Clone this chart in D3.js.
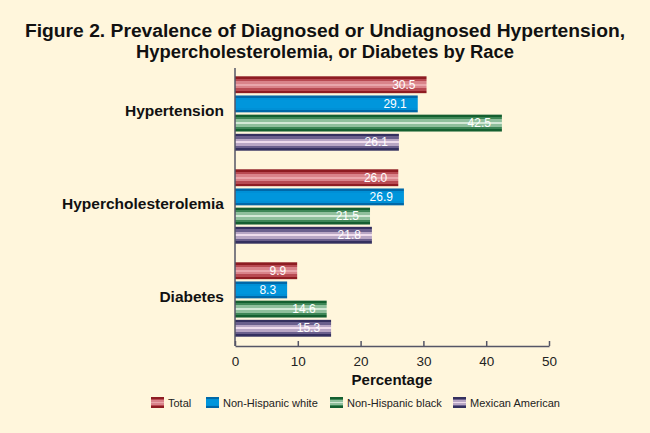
<!DOCTYPE html>
<html>
<head>
<meta charset="utf-8">
<script src="https://cdn.jsdelivr.net/npm/d3@7"></script>
<style>
  html, body { margin: 0; padding: 0; background: #fff6dc; }
  svg { display: block; font-family: "Liberation Sans", Arial, sans-serif; }
</style>
</head>
<body>
<svg id="chart" width="650" height="433"></svg>
<script>
/* ── Data ─────────────────────────────────────────────────────────────── */
const conditions = ['Hypertension', 'Hypercholesterolemia', 'Diabetes'];
const groups = ['Total', 'Non-Hispanic white', 'Non-Hispanic black', 'Mexican American'];
const total    = [30.5, 26.0, 9.9];
const nhWhite  = [29.1, 26.9, 8.3];
const nhBlack  = [42.5, 21.5, 14.6];
const mexican  = [26.1, 21.8, 15.3];
const xTicks   = [0, 10, 20, 30, 40, 50];

const seriesValues = [total, nhWhite, nhBlack, mexican];

/* stripe palettes per group (top → bottom) */
const stripes = [
  ['#8e1c22', '#b84a52', '#d9838a', '#e9a6ab', '#d9838a', '#b84a52', '#8e1c22'],
  ['#0068a8', '#0090d6', '#0096dc', '#0096dc', '#0096dc', '#0090d6', '#0068a8'],
  ['#145f30', '#3d8656', '#8fbf9c', '#d3e8d6', '#8fbf9c', '#3d8656', '#145f30'],
  ['#34305f', '#6a5f8c', '#b8a6c4', '#eedcec', '#b8a6c4', '#6a5f8c', '#34305f']
];

const svg = d3.select('#chart');
const defs = svg.append('defs');

stripes.forEach((cols, i) => {
  const grad = defs.append('linearGradient')
    .attr('id', 'g' + i).attr('x1', 0).attr('y1', 0).attr('x2', 0).attr('y2', 1);
  const n = cols.length;
  cols.forEach((c, j) => {
    grad.append('stop').attr('offset', (j / n)).attr('stop-color', c);
    grad.append('stop').attr('offset', ((j + 1) / n)).attr('stop-color', c);
  });
});

/* ── Title ────────────────────────────────────────────────────────────── */
const titleLines = [
  'Figure 2. Prevalence of Diagnosed or Undiagnosed Hypertension,',
  'Hypercholesterolemia, or Diabetes by Race'
];
const titleLens = [600, 378];
titleLines.forEach((t, i) => {
  svg.append('text')
    .attr('x', 325).attr('y', 37 + i * 21)
    .attr('text-anchor', 'middle')
    .attr('font-size', 18).attr('font-weight', 'bold')
    .attr('fill', '#111')
    .attr('textLength', titleLens[i]).attr('lengthAdjust', 'spacingAndGlyphs')
    .text(t);
});

/* ── Scales ───────────────────────────────────────────────────────────── */
const x = d3.scaleLinear().domain([0, 50]).range([235, 549]);
const y0 = d3.scaleBand().domain(conditions).range([67, 346])
  .paddingInner(0.2).paddingOuter(0.1);
const y1 = d3.scaleBand().domain(d3.range(groups.length))
  .range([0, y0.bandwidth()]).paddingInner(0.12);

/* ── Bars ─────────────────────────────────────────────────────────────── */
conditions.forEach((cond, ci) => {
  const gg = svg.append('g').attr('transform', `translate(0,${y0(cond)})`);
  seriesValues.forEach((vals, si) => {
    const v = vals[ci];
    gg.append('rect')
      .attr('x', x(0)).attr('y', y1(si))
      .attr('width', x(v) - x(0)).attr('height', y1.bandwidth())
      .attr('fill', `url(#g${si})`);
    gg.append('text')
      .attr('x', x(v) - 11).attr('y', y1(si) + y1.bandwidth() / 2 + 4)
      .attr('text-anchor', 'end')
      .attr('font-size', 12).attr('fill', '#fff')
      .text(v.toFixed(1));
  });
  svg.append('text')
    .attr('x', 224).attr('y', y0(cond) + y0.bandwidth() / 2 + 2)
    .attr('text-anchor', 'end')
    .attr('font-size', 15.5).attr('font-weight', 'bold').attr('fill', '#111')
    .text(cond);
});

/* ── Axes ─────────────────────────────────────────────────────────────── */
const axisCol = '#555566';
svg.append('line')
  .attr('x1', x(0)).attr('x2', x(0)).attr('y1', 68).attr('y2', 346)
  .attr('stroke', axisCol).attr('stroke-width', 1.5);

const xAxisG = svg.append('g').attr('transform', 'translate(0,346)')
  .call(d3.axisBottom(x).tickValues(xTicks).tickSize(-5).tickPadding(10).tickSizeOuter(0));
xAxisG.select('.domain').attr('stroke', axisCol).attr('stroke-width', 1.5);
xAxisG.selectAll('.tick line').attr('stroke', axisCol).attr('stroke-width', 1.5);
xAxisG.selectAll('.tick text')
  .attr('font-size', 13.5).attr('fill', '#222')
  .attr('font-family', '"Liberation Sans", Arial, sans-serif');

svg.append('text')
  .attr('x', x(25)).attr('y', 385)
  .attr('text-anchor', 'middle')
  .attr('font-size', 15).attr('font-weight', 'bold').attr('fill', '#111')
  .text('Percentage');

/* ── Legend ───────────────────────────────────────────────────────────── */
const legendX = [151, 206, 330, 453];
groups.forEach((name, i) => {
  svg.append('rect')
    .attr('x', legendX[i]).attr('y', 397).attr('width', 13).attr('height', 11)
    .attr('fill', `url(#g${i})`);
  svg.append('text')
    .attr('x', legendX[i] + 17).attr('y', 407)
    .attr('font-size', 11).attr('fill', '#222')
    .text(name);
});
</script>
</body>
</html>
